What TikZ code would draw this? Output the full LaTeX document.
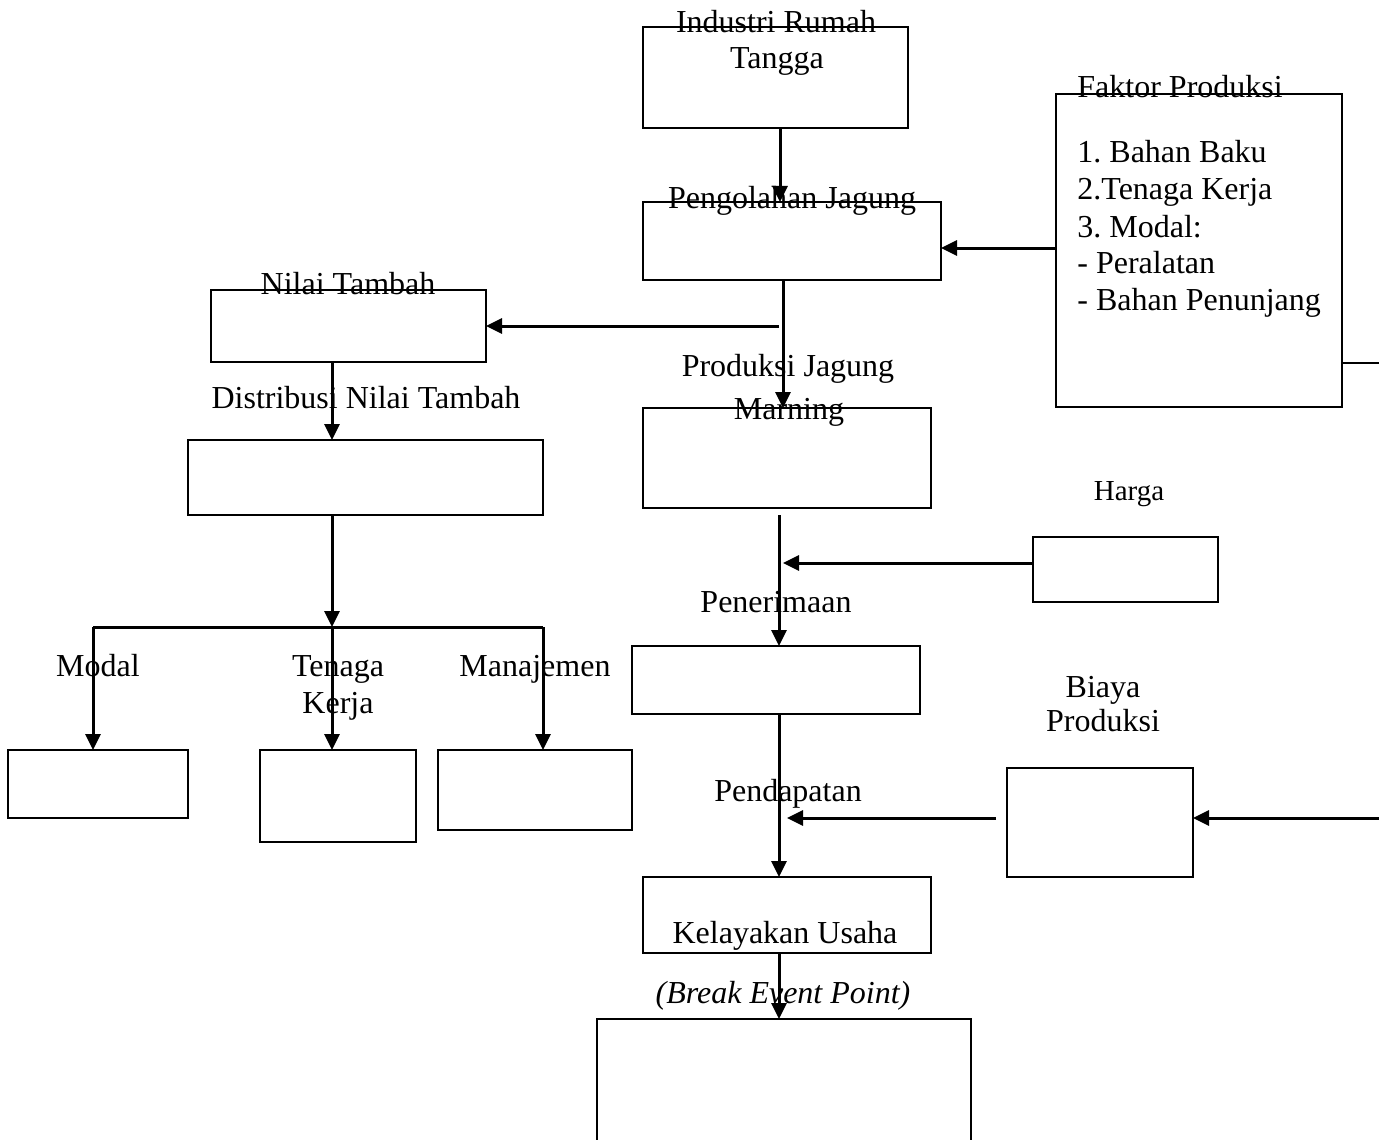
\documentclass[tikz,border=0pt]{standalone}
\usepackage{fontspec}
\setmainfont{Liberation Serif}
\usetikzlibrary{arrows.meta}
\frenchspacing
\begin{document}
\begin{tikzpicture}[x=0.5pt,y=-0.5pt,
  box/.style={draw,line width=1pt,rectangle,inner sep=0pt,outer sep=0pt},
  arr/.style={line width=1.5pt,-{Triangle[length=8pt,width=7.5pt]}},
  ln/.style={line width=1.5pt},
  lbl/.style={anchor=base,inner sep=0pt,font=\fontsize{16}{18}\selectfont},
  lbll/.style={anchor=base west,inner sep=0pt,font=\fontsize{16}{18}\selectfont}]
\useasboundingbox (0,0) rectangle (1379,1139);
% boxes
\node[box,minimum width=132.5pt,minimum height=50.5pt] (ind) at (775.5,77.5) {};
\node[box,minimum width=149pt,minimum height=39pt] (peng) at (792,241) {};
\node[box,minimum width=143pt,minimum height=156.5pt] (fak) at (1199,250.5) {};
\node[box,minimum width=137.5pt,minimum height=36pt] (nil) at (348.5,326) {};
\node[box,minimum width=177.5pt,minimum height=37.5pt] (dis) at (365.5,477.5) {};
\node[box,minimum width=144pt,minimum height=50pt] (prod) at (787,458) {};
\node[box,minimum width=92.5pt,minimum height=32.5pt] (har) at (1125.5,569.5) {};
\node[box,minimum width=144pt,minimum height=34pt] (pen) at (776,680) {};
\node[box,minimum width=93pt,minimum height=54.5pt] (bia) at (1100,822.5) {};
\node[box,minimum width=144pt,minimum height=38pt] (kel) at (787,915) {};
\node[box,minimum width=187pt,minimum height=65.5pt] (bep) at (784,1084.5) {};
\node[box,minimum width=90pt,minimum height=34pt] (mod) at (98,784) {};
\node[box,minimum width=78pt,minimum height=46pt] (ten) at (338,796) {};
\node[box,minimum width=97pt,minimum height=40pt] (man) at (535,790) {};
% labels
\node[lbl] (t1) at (776,33) {Industri Rumah};
\node[lbl] (t2) at (777,69) {Tangga};
\node[lbl] (t3) at (792,208) {Pengolahan Jagung};
\node[lbll] (t4) at (1077,98) {Faktor Produksi};
\node[lbll] (t5) at (1077,163) {1. Bahan Baku};
\node[lbll] (t6) at (1077,199) {2.Tenaga Kerja};
\node[lbll] (t7) at (1077,237) {3. Modal:};
\node[lbll] (t8) at (1077,273) {- Peralatan};
\node[lbll] (t9) at (1077,310) {- Bahan Penunjang};
\node[lbl] (t10) at (348,294) {Nilai Tambah};
\node[lbl] (t11) at (366,408) {Distribusi Nilai Tambah};
\node[lbl] (t12) at (788,376) {Produksi Jagung};
\node[lbl] (t13) at (789,419) {Marning};
\node[lbl,font=\fontsize{14.5}{17}\selectfont] (t14) at (1129,500) {Harga};
\node[lbl] (t15) at (776,612) {Penerimaan};
\node[lbl] (t16) at (98,676) {Modal};
\node[lbl] (t17) at (338,676) {Tenaga};
\node[lbl] (t18) at (338,713) {Kerja};
\node[lbl] (t19) at (535,676) {Manajemen};
\node[lbl] (t20) at (1103,697) {Biaya};
\node[lbl] (t21) at (1103,731) {Produksi};
\node[lbl] (t22) at (788,801) {Pendapatan};
\node[lbl] (t23) at (785,943) {Kelayakan Usaha};
\node[lbl] (t24) at (783,1003) {\itshape (Break Event Point)};
% helper coordinates
\coordinate (c780) at (780,0);
\coordinate (c783) at (783,0);
\coordinate (c779) at (779,0);
\coordinate (c332) at (332,0);
\coordinate (y248) at (0,248);
\coordinate (y363) at (0,363);
\coordinate (nstart) at (779,326);
\coordinate (j) at (332,627);
\coordinate (jl) at (93,627);
\coordinate (jr) at (543,627);
\coordinate (ps) at (779,515);
\coordinate (hend) at (783,563);
\coordinate (bs) at (996,818);
\coordinate (be) at (787,818);
\coordinate (rs) at (1379,818);
\coordinate (fe) at (1379,363);
% connectors
\draw[arr] (ind.south -| c780) -- (peng.north -| c780);
\draw[arr] (fak.west |- y248) -- (peng.east |- y248);
\draw[arr] (peng.south -| c783) -- (prod.north -| c783);
\draw[arr] (nstart) -- (nil.east);
\draw[arr] (nil.south -| c332) -- (dis.north -| c332);
\draw[arr] (dis.south -| c332) -- (j);
\draw[ln] (jl) -- (jr);
\draw[arr] (jl) -- (mod.north -| jl);
\draw[arr] (j) -- (ten.north -| j);
\draw[arr] (jr) -- (man.north -| jr);
\draw[arr] (ps) -- (pen.north -| ps);
\draw[arr] (hend -| har.west) -- (hend);
\draw[arr] (pen.south -| c779) -- (kel.north -| c779);
\draw[arr] (bs) -- (be);
\draw[arr] (rs) -- (rs -| bia.east);
\draw[line width=1pt] (fak.east |- y363) -- (fe);
\draw[arr] (kel.south -| c779) -- (bep.north -| c779);
\end{tikzpicture}
\end{document}
